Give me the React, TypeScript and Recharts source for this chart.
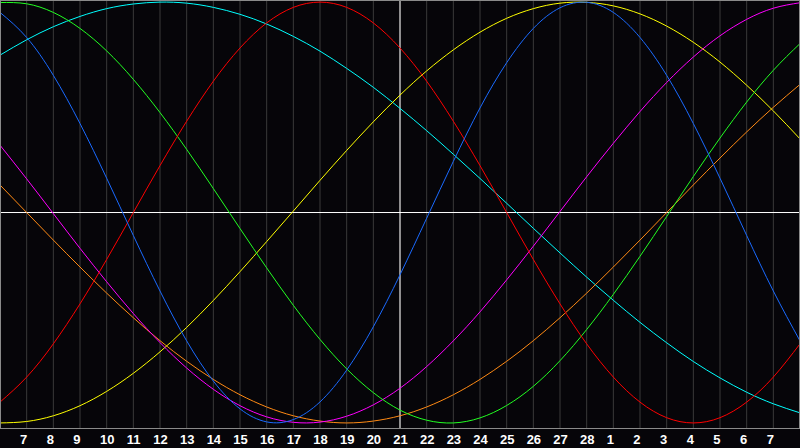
import React from 'react';
import { LineChart, Line, XAxis, YAxis, CartesianGrid, ReferenceLine } from 'recharts';

// day index 0..30 across the chart, labels shown for 1..29
const days = [0, 1, 2, 3, 4, 5, 6, 7, 8, 9, 10, 11, 12, 13, 14, 15, 16, 17, 18, 19, 20, 21, 22, 23, 24, 25, 26, 27, 28, 29, 30];
const dayLabels = ['7', '8', '9', '10', '11', '12', '13', '14', '15', '16', '17', '18', '19', '20', '21', '22', '23', '24', '25', '26', '27', '28', '1', '2', '3', '4', '5', '6', '7'];
const today = 15;

const physical = [95.1, 83.2, 65.2, 42.3, 16.3, -10.9, -37.3, -61.0, -80.1, -93.3, -99.5, -98.4, -90.0, -74.9, -54.3, -29.6, -2.7, 24.3, 49.7, 71.2, 87.5, 97.3, 99.9, 95.1, 83.2, 65.2, 42.3, 16.3, -10.9, -37.3, -61.0];
const emotional = [-90.1, -78.2, -62.4, -43.4, -22.3, 0, 22.3, 43.4, 62.4, 78.2, 90.1, 97.5, 100, 97.5, 90.1, 78.2, 62.4, 43.4, 22.3, 0, -22.3, -43.4, -62.4, -78.2, -90.1, -97.5, -100, -97.5, -90.1, -78.2, -62.4];
const intellectual = [99.8, 99.2, 95.1, 87.5, 76.8, 63.3, 47.5, 30.0, 11.4, -7.6, -26.3, -44.1, -60.3, -74.3, -85.6, -93.9, -98.7, -100.0, -97.6, -91.7, -82.6, -70.4, -55.6, -38.9, -20.8, -1.9, 17.1, 35.4, 52.5, 67.6, 80.3];
const intuitive = [32.0, 16.0, -0.5, -17.0, -32.9, -48.0, -61.8, -73.9, -84.0, -91.8, -97.1, -99.7, -99.6, -96.8, -91.4, -83.5, -73.2, -61.0, -47.2, -32.0, -16.0, 0.5, 17.0, 32.9, 48.0, 61.8, 73.9, 84.0, 91.8, 97.1, 99.7];
const aesthetic = [-100.0, -99.3, -96.6, -91.8, -85.0, -76.4, -66.2, -54.6, -41.8, -28.1, -13.8, 0.7, 15.3, 29.5, 43.1, 55.8, 67.3, 77.3, 85.7, 92.3, 96.9, 99.5, 99.9, 98.2, 94.4, 88.6, 80.9, 71.5, 60.5, 48.3, 35.0];
const awareness = [13.1, 0, -13.1, -25.9, -38.3, -50.0, -60.9, -70.7, -79.3, -86.6, -92.4, -96.6, -99.1, -100, -99.1, -96.6, -92.4, -86.6, -79.3, -70.7, -60.9, -50.0, -38.3, -25.9, -13.1, 0, 13.1, 25.9, 38.3, 50.0, 60.9];
const spiritual = [74.8, 82.1, 88.3, 93.2, 96.9, 99.1, 100.0, 99.5, 97.5, 94.2, 89.6, 83.7, 76.7, 68.5, 59.5, 49.5, 38.9, 27.7, 16.2, 4.4, -7.5, -19.2, -30.7, -41.7, -52.2, -61.9, -70.8, -78.6, -85.4, -90.9, -95.2];

const data = days.map((k, i) => ({
  k,
  physical: physical[i],
  emotional: emotional[i],
  intellectual: intellectual[i],
  intuitive: intuitive[i],
  aesthetic: aesthetic[i],
  awareness: awareness[i],
  spiritual: spiritual[i],
}));

const tickDays = days.slice(1, 30);

const DayTick = (props: any) => {
  const { x, payload } = props;
  const label = dayLabels[payload.value - 1];
  return (
    <text x={x - 6.7} y={444} textAnchor="start" fill="#ffffff" fontSize={13} fontWeight="bold" fontFamily="'Liberation Sans', Arial, sans-serif">
      {label}
    </text>
  );
};

const lines = [
  { key: 'spiritual', color: '#00ffff' },
  { key: 'awareness', color: '#ff8a14' },
  { key: 'aesthetic', color: '#ffff00' },
  { key: 'intuitive', color: '#ff00ff' },
  { key: 'intellectual', color: '#22ff22' },
  { key: 'emotional', color: '#ff0000' },
  { key: 'physical', color: '#1a6aff' },
];

export default function App() {
  return (
    <div style={{ position: 'absolute', left: 0, top: 0, width: 800, height: 448, background: '#060509' }}>
      <LineChart width={800} height={448} data={data} margin={{ top: 0, right: 0, left: 0, bottom: 0 }}>
        <CartesianGrid horizontal={false} stroke="#3a3a3a" />
        <XAxis
          dataKey="k"
          type="number"
          domain={[0, 30]}
          ticks={tickDays}
          interval={0}
          height={20}
          tick={<DayTick />}
          tickLine={false}
          axisLine={false}
        />
        <YAxis hide domain={[-102.4, 101]} />
        <ReferenceLine y={0} stroke="#ffffff" />
        <ReferenceLine x={today} stroke="#ffffff" />
        {lines.map((l) => (
          <Line
            key={l.key}
            type="natural"
            dataKey={l.key}
            stroke={l.color}
            dot={false}
            activeDot={false}
            strokeWidth={1}
            isAnimationActive={false}
          />
        ))}
      </LineChart>
      <div style={{ position: 'absolute', left: 0, top: 0, width: 798, height: 427, border: '1px solid #8a8a8a', pointerEvents: 'none' }} />
    </div>
  );
}
